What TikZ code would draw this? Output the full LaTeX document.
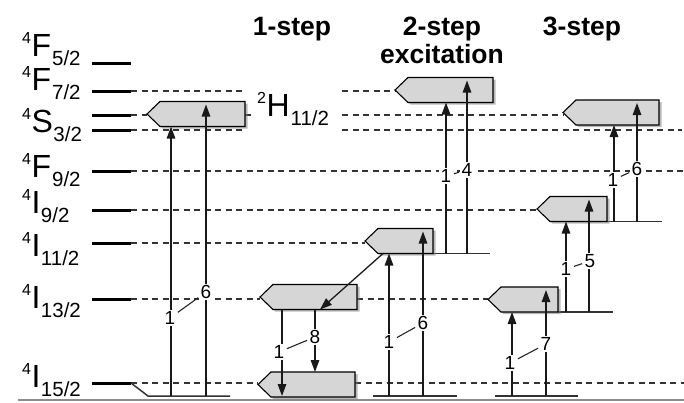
\documentclass[tikz,border=0pt]{standalone}
\usepackage{fontspec}
\setmainfont{Liberation Sans}
\usetikzlibrary{arrows.meta,shadows}

% term symbol: superscript multiplicity, letter, subscript J, gap before J
\newcommand\termlbl[4]{\raisebox{13pt}{\fontsize{16}{16}\selectfont #1}\kern0.5pt#2\kern#4\raisebox{-9.5pt}{\fontsize{20.5}{20.5}\selectfont #3}}

% level box with a pointed left end: name, tip x, right x, centre y
\newcommand\lvlbox[4]{%
  \coordinate (#1-tip) at (#2,#4);
  \coordinate (#1-top) at (#3,#4-12.5);
  \coordinate (#1-bot) at (#3,#4+12.5);
  \filldraw[lbox] (#1-tip) -- (#2+13,#4-12.5) -- (#1-top) -- (#1-bot) -- (#2+13,#4+12.5) -- cycle;
}

\begin{document}
\begin{tikzpicture}[x=1pt,y=-1pt,
  tick/.style={line width=3pt,black},
  lvldash/.style={line width=1.2pt,dash pattern=on 6pt off 4.5pt,black!80},
  plat/.style={line width=1.5pt,black!80},
  trans/.style={line width=1.3pt,black!90,-{Triangle[length=12pt,width=8.5pt]}},
  lbox/.style={fill=black!16,draw=black,line width=1.1pt,
    drop shadow={shadow xshift=2.5pt,shadow yshift=-2pt,fill=black!50,opacity=.55}},
  lvllbl/.style={anchor=base west,inner sep=0pt,font=\fontsize{32}{32}\selectfont},
  ttl/.style={anchor=base,inner sep=0pt,font=\bfseries\fontsize{26.5}{26.5}\selectfont},
  num/.style={fill=white,inner sep=1.5pt,font=\fontsize{19}{19}\selectfont},
  slash/.style={line width=1.1pt,black!85,shorten <=1pt,shorten >=1pt}]

\useasboundingbox (0,0) rectangle (684,402);

% ground line
\draw[line width=2.5pt,black!45] (18,400) -- (684,400);

% level ticks on the left
\foreach \n/\y in {F52/63,F72/91,H112/115,S32/130,F92/171,I92/210,I112/243,I132/299,I152/383}{
  \draw[tick] (92,\y) -- (131,\y) coordinate (\n);
}

% level labels
\node[lvllbl] (tF52) at (22,56) {\termlbl{4}{F}{5/2}{1pt}};
\node[lvllbl] (tF72) at (22,90) {\termlbl{4}{F}{7/2}{1pt}};
\node[lvllbl] (tS32) at (22,132) {\termlbl{4}{S}{3/2}{0.5pt}};
\node[lvllbl] (tF92) at (22,177) {\termlbl{4}{F}{9/2}{1pt}};
\node[lvllbl] (tI92) at (22,213) {\termlbl{4}{I}{9/2}{0.5pt}};
\node[lvllbl] (tI112) at (22,256) {\termlbl{4}{I}{11/2}{0.5pt}};
\node[lvllbl] (tI132) at (22,308) {\termlbl{4}{I}{13/2}{0.5pt}};
\node[lvllbl] (tI152) at (22,387) {\termlbl{4}{I}{15/2}{0.5pt}};
\node[lvllbl] (tH112) at (257,116) {\termlbl{2}{H}{11/2}{1pt}};

% titles
\node[ttl] (s1) at (292,35) {1-step};
\node[ttl] (s2) at (442,35) {2-step};
\node[ttl] (s2b) at (442,63) {excitation};
\node[ttl] (s3) at (582,35) {3-step};

% dashed level lines
\coordinate (eF72) at (342,91);
\coordinate (eH112) at (342,115);
\coordinate (eS32) at (342,130);
\draw[lvldash] (F72) -- (245,91);
\draw[lvldash] (eF72) -- (395,91);
\draw[lvldash] (H112) -- (147,115);
\draw[lvldash] (245,115) -- (252,115);
\draw[lvldash] (eH112) -- (563,115);
\draw[lvldash] (S32) -- (245,130);
\draw[lvldash] (eS32) -- (682,130);
\draw[lvldash] (F92) -- (684,171);
\draw[lvldash] (I92) -- (537,210);
\draw[lvldash] (I112) -- (365,243);
\draw[lvldash] (I132) -- (260,299);
\draw[lvldash] (357,299) -- (488,299);
\draw[lvldash] (I152) -- (258,383);
\draw[lvldash] (355,383) -- (684,383);

% ground and intermediate platforms
\draw[plat] (I152) -- (148,396) -- (230,396);
\draw[plat] (373,396) -- (457,396);
\draw[plat] (495,396) -- (578,396);
\draw[plat] (433,253.5) -- (490,253.5);
\draw[plat] (558,312) -- (613,312);
\draw[plat] (607,221.5) -- (662,221.5);

% level boxes
\lvlbox{A}{147}{245}{114}
\lvlbox{B}{260}{357}{297}
\lvlbox{C}{258}{355}{384.5}
\lvlbox{D}{365}{433}{241}
\lvlbox{E}{395}{493}{90}
\lvlbox{F}{488}{558}{299.5}
\lvlbox{G}{537}{607}{209}
\lvlbox{H}{563}{659}{112.5}

% 1-step transitions
\draw[trans] (171,396) -- (171,126.5);
\draw[trans] (206,396) -- (206,104.5);
\draw[trans] (383,253.5) -- (320,309.5);
\draw[trans] (282,309.5) -- (282,396);
\draw[trans] (315,309.5) -- (315,372);
% 2-step transitions
\draw[trans] (389,396) -- (389,253.5);
\draw[trans] (423,396) -- (423,231.5);
\draw[trans] (446,253.5) -- (446,102.5);
\draw[trans] (467,253.5) -- (467,80.5);
% 3-step transitions
\draw[trans] (512,396) -- (512,312);
\draw[trans] (546,396) -- (546,290);
\draw[trans] (566,312) -- (566,221.5);
\draw[trans] (589,312) -- (589,199.5);
\draw[trans] (614,221.5) -- (614,125);
\draw[trans] (637,221.5) -- (637,103);

% photon-number labels
\node[num] (a1) at (170,318) {1};
\node[num] (a2) at (206,292) {6};
\draw[slash] (a1) -- (a2);
\node[num] (b1) at (279,352) {1};
\node[num] (b2) at (315,337) {8};
\draw[slash] (b1) -- (b2);
\node[num] (c1) at (389,342) {1};
\node[num] (c2) at (423,323) {6};
\draw[slash] (c1) -- (c2);
\node[num] (d1) at (446,176) {1};
\node[num] (d2) at (467,170) {4};
\draw[slash] (d1) -- (d2);
\node[num] (e1) at (510,363) {1};
\node[num] (e2) at (546,344) {7};
\draw[slash] (e1) -- (e2);
\node[num] (f1) at (566,269) {1};
\node[num] (f2) at (590,261) {5};
\draw[slash] (f1) -- (f2);
\node[num] (g1) at (613,180) {1};
\node[num] (g2) at (637,169) {6};
\draw[slash] (g1) -- (g2);

\end{tikzpicture}
\end{document}
